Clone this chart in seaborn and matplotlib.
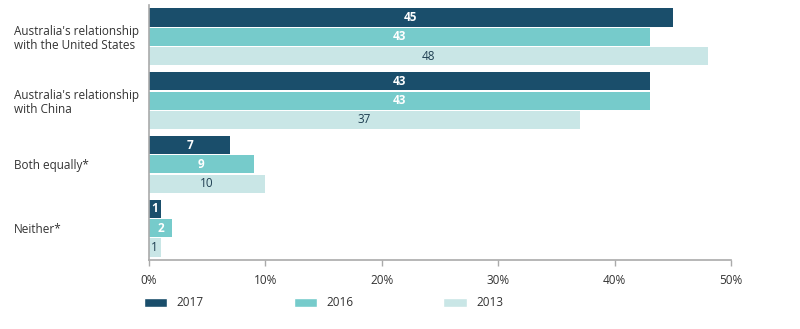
import matplotlib
matplotlib.use("Agg")
import matplotlib.pyplot as plt
import seaborn as sns
import pandas as pd
from matplotlib.patches import Patch

categories = ["Australia's relationship\nwith the United States",
              "Australia's relationship\nwith China",
              "Both equally*",
              "Neither*"]
years = ["2017", "2016", "2013"]
v2017 = [45, 43, 7, 1]
v2016 = [43, 43, 9, 2]
v2013 = [48, 37, 10, 1]
xticks = [0, 10, 20, 30, 40, 50]
xticklabels = ["0%", "10%", "20%", "30%", "40%", "50%"]

colors = {"2017": "#1a4e6b", "2016": "#76cbcb", "2013": "#c9e6e6"}
text_colors = {"2017": "white", "2016": "white", "2013": "#1f3f52"}

rows = []
for y, vals in zip(years, [v2017, v2016, v2013]):
    for c, v in zip(categories, vals):
        rows.append({"category": c, "year": y, "value": v})
df = pd.DataFrame(rows)

sns.set_theme(style="white")
plt.rcParams["font.family"] = ["Open Sans", "DejaVu Sans"]

fig = plt.figure(figsize=(8, 3.29), dpi=100)
ax = fig.add_axes([149/800, 1-260/329, (731-149)/800, (260-5)/329])

sns.barplot(data=df, y="category", x="value", hue="year", orient="h",
            order=categories, hue_order=years, palette=colors,
            width=0.91, gap=0.06, ax=ax, legend=False, edgecolor="none",
            saturation=1)

for container, y in zip(ax.containers, years):
    ax.bar_label(container, labels=[str(int(b.get_width())) for b in container],
                 label_type="center", color=text_colors[y], fontsize=8.5,
                 fontweight="bold" if y != "2013" else "normal")

ax.set_xlim(0, 50)
ax.set_ylim(3.5, -0.5)
ax.set_xticks(xticks)
ax.set_xticklabels(xticklabels, fontsize=8.5, color="#333333")
ax.set_xlabel("")
ax.set_ylabel("")
ax.set_yticks(range(len(categories)))
ax.set_yticklabels(categories, fontsize=8.5, color="#333333", ha="left",
                   linespacing=1.05)
ax.tick_params(axis="y", length=0, pad=(149-14)*0.72)
ax.tick_params(axis="x", length=4, width=1, color="#aaaaaa", direction="out",
               bottom=True, pad=6)
for s in ["top", "right"]:
    ax.spines[s].set_visible(False)
for s in ["left", "bottom"]:
    ax.spines[s].set_color("#aaaaaa")
    ax.spines[s].set_linewidth(1.2)

handles = [Patch(facecolor=colors[y], label=y) for y in years]
fig.legend(handles=handles, loc="center left", bbox_to_anchor=(133/800, 1-303/329),
           ncol=3, frameon=False, fontsize=8.5, handlelength=2.0, handleheight=0.9,
           columnspacing=7.6, handletextpad=0.8, labelcolor="#333333")

fig.savefig("out.png", dpi=100)
